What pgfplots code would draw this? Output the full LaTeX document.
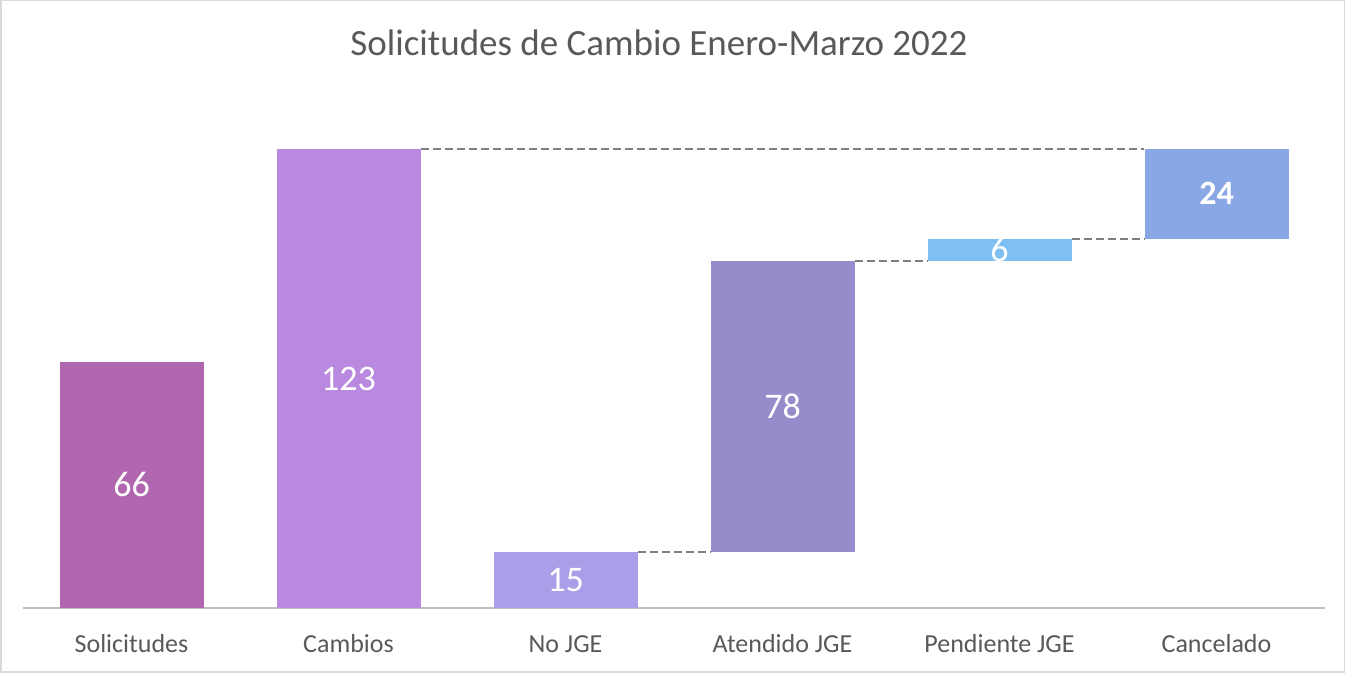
\documentclass[border=0pt]{standalone}
\usepackage{pgfplots}
\pgfplotsset{compat=1.18}
\usepackage{fontspec}
\setmainfont{Carlito}
\definecolor{cSol}{HTML}{B167B0}
\definecolor{cCam}{HTML}{B889DF}
\definecolor{cNo}{HTML}{AC9DE8}
\definecolor{cAte}{HTML}{958DCB}
\definecolor{cPen}{HTML}{7EC0F3}
\definecolor{cCan}{HTML}{8AA7E5}
\definecolor{txtgray}{HTML}{595959}
\definecolor{axgray}{HTML}{BFBFBF}
\definecolor{dashgray}{HTML}{7F7F7F}
\definecolor{bordergray}{HTML}{D9D9D9}
\begin{document}
\begin{tikzpicture}
\draw[draw=bordergray, line width=0.75pt] (0.375pt,0.375pt) rectangle (672.125pt,336.125pt);
\node[font=\fontsize{18.5}{22}\selectfont, text=txtgray] at (329.5pt,315pt) {Solicitudes de Cambio Enero-Marzo 2022};
\begin{axis}[at={(11.5pt,32.5pt)}, anchor=south west, scale only axis,
  width=651pt, height=229.5pt,
  xmin=-0.5, xmax=5.5, ymin=0, ymax=123,
  ybar stacked, bar width=72pt,
  axis y line=none, axis x line*=bottom,
  x axis line style={draw=axgray, line width=0.75pt, -},
  xtick={0,1,2,3,4,5},
  xticklabels={Solicitudes, Cambios, No JGE, Atendido JGE, Pendiente JGE, Cancelado},
  xtick style={draw=none}, major tick length=0pt,
  xticklabel style={anchor=base, yshift=-22.5pt, text=txtgray, font=\fontsize{13}{15}\selectfont},
  clip=false]
\addplot[draw=none, fill=none] coordinates {(0,0) (1,0) (2,0) (3,15) (4,93) (5,99)};
\addplot[draw=none, fill=cSol] coordinates {(0,66) (1,0) (2,0) (3,0) (4,0) (5,0)};
\addplot[draw=none, fill=cCam] coordinates {(0,0) (1,123) (2,0) (3,0) (4,0) (5,0)};
\addplot[draw=none, fill=cNo] coordinates {(0,0) (1,0) (2,15) (3,0) (4,0) (5,0)};
\addplot[draw=none, fill=cAte] coordinates {(0,0) (1,0) (2,0) (3,78) (4,0) (5,0)};
\addplot[draw=none, fill=cPen] coordinates {(0,0) (1,0) (2,0) (3,0) (4,6) (5,0)};
\addplot[draw=none, fill=cCan] coordinates {(0,0) (1,0) (2,0) (3,0) (4,0) (5,24)};
\end{axis}
\begin{axis}[at={(11.5pt,32.5pt)}, anchor=south west, scale only axis,
  width=651pt, height=229.5pt,
  xmin=-0.5, xmax=5.5, ymin=0, ymax=123,
  hide axis, clip=false]
\addplot[dashgray, line width=1pt, dash pattern=on 4pt off 2pt] coordinates {(1.332,123) (4.668,123)};
\addplot[dashgray, line width=1pt, dash pattern=on 4pt off 2pt] coordinates {(2.332,15) (2.668,15)};
\addplot[dashgray, line width=1pt, dash pattern=on 4pt off 2pt] coordinates {(3.332,93) (3.668,93)};
\addplot[dashgray, line width=1pt, dash pattern=on 4pt off 2pt] coordinates {(4.332,99) (4.668,99)};
\addplot[only marks, mark=none, nodes near coords, point meta=explicit symbolic,
  nodes near coords align=center,
  every node near coord/.append style={anchor=center, text=white, font=\fontsize{18}{21}\selectfont}]
  coordinates {(0,33) [66] (1,61.5) [123] (2,7.5) [15] (3,54) [78] (4,96) [6]};
\addplot[only marks, mark=none, nodes near coords, point meta=explicit symbolic,
  nodes near coords align=center,
  every node near coord/.append style={anchor=center, text=white, font=\bfseries\fontsize{17}{20}\selectfont}]
  coordinates {(5,111) [24]};
\end{axis}
\end{tikzpicture}
\end{document}
